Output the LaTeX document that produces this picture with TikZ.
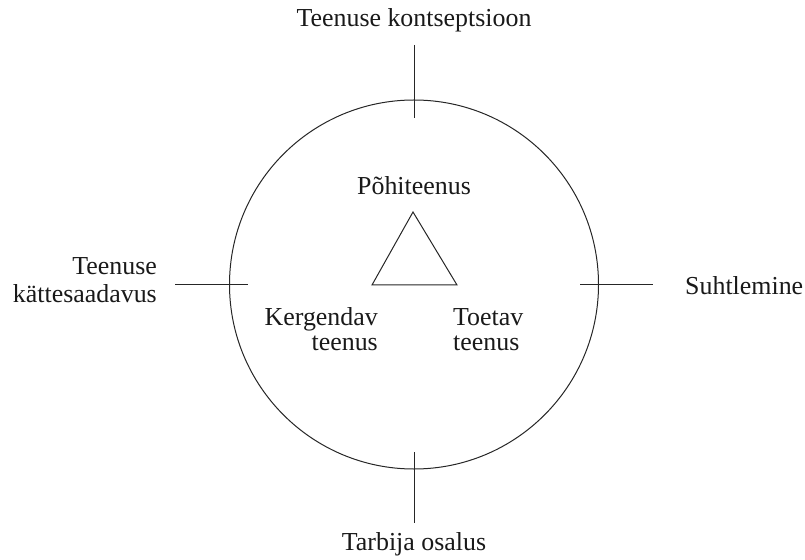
\documentclass[tikz,border=0pt]{standalone}
\usepackage{fontspec}
\setmainfont{Liberation Serif}
\begin{document}
\begin{tikzpicture}[x=1bp,y=-1bp,
  ln/.style={line width=1bp, draw=black!85},
  lbl/.style={inner sep=0pt, font=\fontsize{26}{26.5}\selectfont, text=black!90}]
\useasboundingbox (0,0) rectangle (805,560);
% circle
\node[ln, circle, minimum size=369bp, inner sep=0pt] (c) at (414,284.5) {};
% ticks
\coordinate (t1) at (414,45);  \coordinate (t2) at (414,118);
\coordinate (b1) at (414,452); \coordinate (b2) at (414,523);
\coordinate (l1) at (175,285); \coordinate (l2) at (248,285);
\coordinate (r1) at (580,285); \coordinate (r2) at (653,285);
\draw[ln] (t1) -- (t2);
\draw[ln] (b1) -- (b2);
\draw[ln] (l1) -- (l2);
\draw[ln] (r1) -- (r2);
% triangle
\coordinate (pa) at (413,212);
\coordinate (pl) at (372,285);
\coordinate (pr) at (457,285);
\draw[ln, line join=miter] (pa) -- (pl) -- (pr) -- cycle;
% labels
\node[lbl, anchor=base] (top) at (414,27) {Teenuse kontseptsioon};
\node[lbl, anchor=base] (bot) at (414,550) {Tarbija osalus};
\node[lbl, anchor=base west] (right) at (685,295) {Suhtlemine};
\node[lbl, anchor=base east] (left1) at (157,275) {Teenuse};
\node[lbl, anchor=base east] (left2) at (157,303) {kättesaadavus};
\node[lbl, anchor=base] (core) at (414,195) {Põhiteenus};
\node[lbl, anchor=base east] (enh1) at (378,325) {Kergendav};
\node[lbl, anchor=base east] (enh2) at (378,350) {teenus};
\node[lbl, anchor=base west] (sup1) at (453,325) {Toetav};
\node[lbl, anchor=base west] (sup2) at (453,350) {teenus};
\end{tikzpicture}
\end{document}
